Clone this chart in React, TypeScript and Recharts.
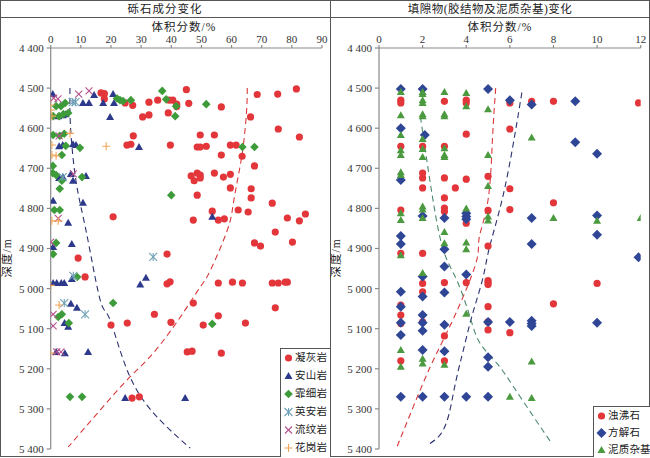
import React from "react";
import { ComposedChart, Scatter, Line, XAxis, YAxis } from "recharts";

type Pt = [number, number]; // [体积分数, 深度]

// ---- 左图：砾石成分 ----
const TUFF: Pt[] = [
  [81.5, 4502], [75.3, 4515], [68.5, 4516], [45, 4504], [66.3, 4572], [56.6, 4547],
  [45.8, 4538], [39.3, 4530], [40.5, 4530], [41.8, 4540], [41.8, 4546], [35.5, 4530],
  [32.6, 4535], [32.6, 4567], [30.5, 4572], [39, 4562], [27.2, 4543], [24.7, 4537],
  [17.8, 4514], [16.7, 4512], [17.8, 4527], [27.4, 4619], [25.3, 4642], [26.6, 4640],
  [39.7, 4642], [75.5, 4602], [82.5, 4622], [49.6, 4617], [54.3, 4617], [48.6, 4647],
  [49.6, 4647], [51.6, 4645], [59.6, 4642], [61.5, 4642], [63.5, 4670], [56.6, 4667],
  [67.6, 4694], [48.6, 4712], [46.6, 4719], [49.6, 4717], [47.6, 4731], [49.6, 4724],
  [54.3, 4712], [57.3, 4722], [59.6, 4715], [59.6, 4749], [66.5, 4751], [66.5, 4774],
  [48.6, 4767], [73.5, 4787], [53.6, 4807], [62.2, 4804], [65.5, 4809], [47.3, 4829],
  [55.6, 4829], [57.6, 4826], [78.5, 4824], [82.5, 4831], [84.5, 4814], [74.5, 4859],
  [67.6, 4886], [69.6, 4894], [80.2, 4884], [55.6, 4986], [60.3, 4984], [63.6, 4986],
  [73.5, 4986], [75.5, 4986], [77.8, 4984], [78.5, 4984], [47.3, 5036], [74.5, 5048],
  [55.6, 5068], [50.6, 5091], [64.6, 5086], [45.3, 5158], [46.9, 5156], [56.6, 5161],
  [38.6, 4988], [39.6, 4983], [34.4, 5064], [39.9, 5084], [25.4, 5086], [20, 5091],
  [27, 5273], [29.4, 5270], [20.7, 4821], [9.1, 4924], [11.4, 4971], [38.6, 4914],
];
const ANDESITE: Pt[] = [
  [0.7, 4515], [10.7, 4537], [12.7, 4537], [14.4, 4517], [20.7, 4515], [17.4, 4537],
  [21, 4537], [19.7, 4572], [2.5, 4570], [4, 4568], [5, 4565], [2.8, 4645], [4, 4642],
  [29.3, 4647], [7.4, 4640], [8.4, 4642], [6.7, 4714], [7.4, 4731], [11.7, 4719],
  [2.8, 4724], [4, 4722], [10.7, 4786], [0.8, 4781], [5.8, 4836], [7, 4889], [0.8, 4896],
  [0.8, 4986], [2, 4986], [3.5, 4986], [4.5, 4986], [7, 4976], [29.7, 4990], [31.6, 4973],
  [6.7, 5038], [8.7, 5048], [4.6, 5086], [5.8, 5095], [53.6, 4821], [1.8, 5158],
  [4.7, 5161], [12.4, 5158], [24.7, 5273], [44.6, 5273],
];
const FELSITE: Pt[] = [
  [37, 4507], [38.3, 4528], [51.6, 4540], [41.3, 4570], [41.6, 4545], [23, 4530],
  [22, 4526], [24, 4532], [26.6, 4530], [4.8, 4537], [3.4, 4545], [1.8, 4545],
  [0.8, 4570], [2.8, 4570], [4.2, 4565], [5.8, 4562], [0.8, 4617], [3, 4619], [4.5, 4614],
  [5, 4644], [9.7, 4649], [3.7, 4667], [0.7, 4694], [0.7, 4712], [1.8, 4717], [3.7, 4731],
  [3, 4751], [10.4, 4722], [40, 4767], [1.2, 4804], [3, 4804], [1.8, 4886], [0.8, 4914],
  [8.8, 4971], [20.7, 5036], [3.7, 5064], [2.5, 5071], [6, 5086], [53.6, 5088],
  [6.4, 5270], [10.4, 5270], [63.6, 4647], [67.6, 4647],
];
const DACITE: Pt[] = [
  [7.3, 4535], [8.2, 4535], [4, 4722], [34, 4921], [7.5, 4968], [4.5, 5036], [11.4, 5064],
];
const RHYOLITE: Pt[] = [
  [9.3, 4515], [12.7, 4507], [1, 4525], [2.4, 4527], [2.8, 4619], [7.5, 4714],
  [2.5, 4825], [0, 4884], [0.8, 5064], [0.8, 5093], [3.4, 5158], [2, 5158],
];
const GRANITE: Pt[] = [
  [0, 4542], [0.4, 4570], [0.4, 4642], [18.4, 4645], [1.8, 4669], [0.4, 4667],
  [6.4, 4613], [0.4, 4831], [2.5, 4831], [2.8, 5041], [0, 5161], [0, 4992], [0, 4555],
];
const LEFT_TREND_NAVY: Pt[] = [
  [6.4, 4500], [6.6, 4600], [8.5, 4737], [11.9, 4862], [16.4, 5028], [19.7, 5078],
  [26.3, 5220], [36.3, 5328], [46.3, 5398],
];
const LEFT_TREND_RED: Pt[] = [
  [65.2, 4500], [65, 4555], [64, 4637], [62.6, 4704], [60.6, 4787], [58.6, 4854],
  [53, 4954], [49.6, 4996], [43, 5071], [34, 5161], [26.3, 5220], [16.4, 5303], [5.8, 5395],
];

// ---- 右图：填隙物 ----
const LAUMONTITE: Pt[] = [
  [1, 4530], [1, 4537], [1, 4645], [1, 4804], [1, 4912], [1, 5041], [1, 5066], [1, 5087], [1, 5180],
  [2, 4645], [2, 4712], [2, 4724], [2, 4749], [2, 4912], [2, 4987], [2, 5008], [2, 5083],
  [3, 4533], [3, 4645], [3, 4724], [3, 4774], [3, 4799], [3, 4808], [3, 4985], [3, 5118], [3, 5180],
  [3.5, 4749], [4, 4530], [4, 4537], [4, 4615], [4, 4727], [4, 4837], [4, 4985],
  [5, 4720], [5, 4805], [5, 4894], [5, 4980], [5, 4985], [5, 4990], [5, 5045], [5, 5083], [5, 5103],
  [6, 4537], [6, 4602], [6, 4751], [6, 4803], [6, 5110], [7, 4533], [8, 4533], [8, 4786],
  [8, 5038], [10, 4987], [11.9, 4537],
];
const CALCITE: Pt[] = [
  [1, 4502], [1, 4600], [1, 4729], [1, 4869], [1, 4889], [1, 5008], [1, 5045], [1, 5085], [1, 5116], [1, 5270],
  [2, 4502], [2.1, 4617], [2, 4819], [2, 4970], [2, 5020], [2, 5066], [2, 5085], [2, 5105], [2, 5153], [2, 5270],
  [3, 4824], [3, 4902], [3, 4945], [3, 5010], [3, 5090], [3, 5156], [3, 5270],
  [4, 4812], [4, 4820], [4, 4827], [4, 4965], [4, 5270],
  [5, 4502], [5, 5083], [5, 5171], [5, 5195], [5, 5270], [6, 4530], [6, 5083],
  [7, 4541], [7, 4824], [7, 4889], [7, 5080], [7, 5087], [7, 5093], [9, 4533], [9, 4635],
  [10, 4664], [10, 4818], [10, 4866], [10, 5085], [11.9, 4922],
];
const MATRIX: Pt[] = [
  [1, 4510], [1, 4568], [1, 4617], [1, 4655], [1, 4667], [1, 4710], [1, 4717], [1, 4812],
  [1, 4829], [1, 4917], [1, 5153], [1, 5195],
  [2, 4510], [2, 4515], [2, 4530], [2, 4537], [2, 4565], [2, 4570], [2, 4627], [2, 4652],
  [2, 4672], [2, 4795], [2, 4803], [2, 4824], [2, 4961], [2, 5175], [2, 5187],
  [3, 4510], [3, 4565], [3, 4570], [3, 4650], [3, 4667], [3, 4672], [3, 4859], [3, 4887], [3, 5190],
  [4, 4512], [4, 4545], [4, 4800], [4, 4885], [4, 4902], [4, 5063],
  [5, 4553], [5, 4667], [5, 4744], [5, 4820], [5, 4830], [6, 5270], [7, 4623], [7, 5182],
  [7, 5273], [8, 4824], [10, 4831], [12, 4824],
];
const RIGHT_TREND_RED: Pt[] = [
  [5.35, 4500], [5.2, 4630], [5, 4779], [4.6, 4871], [4.5, 4925], [3.86, 5020],
  [3.1, 5111], [2.35, 5195], [1.57, 5295], [0.82, 5395],
];
const RIGHT_TREND_NAVY: Pt[] = [
  [6.55, 4511], [6.24, 4613], [5.78, 4746], [5.32, 4846], [5.0, 4912], [4.78, 4970],
  [4.48, 5028], [4.17, 5087], [3.87, 5153], [3.64, 5203], [3.41, 5261], [3.18, 5319],
  [2.8, 5365], [2.19, 5391],
];
const RIGHT_TREND_GREEN: Pt[] = [
  [1.9, 4571], [2.19, 4679], [2.5, 4787], [2.95, 4904], [3.56, 4978], [4.17, 5070],
  [4.63, 5136], [5.4, 5186], [6.16, 5244], [7.08, 5319], [7.92, 5386],
];

const DEPTH_TICKS = [4400, 4500, 4600, 4700, 4800, 4900, 5000, 5100, 5200, 5300, 5400];
const LEFT_TICKS = [0, 10, 20, 30, 40, 50, 60, 70, 80, 90];
const RIGHT_TICKS = [0, 2, 4, 6, 8, 10, 12];

const SERIF = "'Liberation Serif', 'Noto Sans CJK SC', serif";
const RED = "#e3363b";
const NAVY = "#2d3a8c";
const GREEN = "#3e9b3a";

const toXY = (pts: Pt[]) => pts.map(([x, y]) => ({ x, y }));
const fmtDepth = (v: number) => `${Math.floor(v / 1000)} ${String(v % 1000).padStart(3, "0")}`;

const Dot = (color: string) => (p: any) => <circle cx={p.cx} cy={p.cy} r={3.6} fill={color} />;
const Tri = (color: string) => (p: any) => (
  <polygon points={`${p.cx},${p.cy - 4} ${p.cx - 4},${p.cy + 3} ${p.cx + 4},${p.cy + 3}`} fill={color} />
);
const Dia = (color: string, s = 4.6) => (p: any) => (
  <polygon points={`${p.cx},${p.cy - s} ${p.cx + s},${p.cy} ${p.cx},${p.cy + s} ${p.cx - s},${p.cy}`} fill={color} />
);
const Star = (color: string) => (p: any) => (
  <g stroke={color} strokeWidth={1.1}>
    <line x1={p.cx - 4} y1={p.cy - 4} x2={p.cx + 4} y2={p.cy + 4} />
    <line x1={p.cx - 4} y1={p.cy + 4} x2={p.cx + 4} y2={p.cy - 4} />
    <line x1={p.cx} y1={p.cy - 4} x2={p.cx} y2={p.cy + 4} />
  </g>
);
const Cross = (color: string) => (p: any) => (
  <g stroke={color} strokeWidth={1.1}>
    <line x1={p.cx - 3.5} y1={p.cy - 3.5} x2={p.cx + 3.5} y2={p.cy + 3.5} />
    <line x1={p.cx - 3.5} y1={p.cy + 3.5} x2={p.cx + 3.5} y2={p.cy - 3.5} />
  </g>
);
const Plus = (color: string) => (p: any) => (
  <g stroke={color} strokeWidth={1.1}>
    <line x1={p.cx - 4} y1={p.cy} x2={p.cx + 4} y2={p.cy} />
    <line x1={p.cx} y1={p.cy - 4} x2={p.cx} y2={p.cy + 4} />
  </g>
);

const tickStyle = { fontSize: 11, fill: "#333", fontFamily: SERIF };

const LEFT_SERIES = [
  { name: "凝灰岩", data: TUFF, shape: Dot(RED) },
  { name: "安山岩", data: ANDESITE, shape: Tri(NAVY) },
  { name: "霏细岩", data: FELSITE, shape: Dia(GREEN, 4.3) },
  { name: "英安岩", data: DACITE, shape: Star("#6fa0b6") },
  { name: "流纹岩", data: RHYOLITE, shape: Cross("#b5508c") },
  { name: "花岗岩", data: GRANITE, shape: Plus("#f2a55a") },
];
const RIGHT_SERIES = [
  { name: "浊沸石", data: LAUMONTITE, shape: Dot(RED) },
  { name: "方解石", data: CALCITE, shape: Dia("#2f4696", 5) },
  { name: "泥质杂基", data: MATRIX, shape: Tri("#4b9a3f") },
];

function Panel(props: {
  width: number;
  domain: [number, number];
  ticks: number[];
  series: { name: string; data: Pt[]; shape: any }[];
  trends: { data: Pt[]; color: string }[];
  marginLeft: number;
  marginRight: number;
}) {
  return (
    <ComposedChart
      width={props.width}
      height={458}
      margin={{ top: 28, right: props.marginRight, bottom: 9, left: props.marginLeft }}
    >
      <XAxis
        type="number"
        dataKey="x"
        orientation="top"
        domain={props.domain}
        ticks={props.ticks}
        height={20}
        tick={tickStyle}
        tickSize={3}
        tickMargin={2}
        stroke="#8a8a8a"
        strokeWidth={1.2}
        allowDataOverflow
      />
      <YAxis
        type="number"
        dataKey="y"
        reversed
        domain={[4400, 5400]}
        ticks={DEPTH_TICKS}
        width={40}
        tick={tickStyle}
        tickFormatter={fmtDepth}
        tickSize={4}
        tickMargin={3}
        stroke="#8a8a8a"
        strokeWidth={1.2}
        allowDataOverflow
      />
      {props.series.map((s) => (
        <Scatter key={s.name} name={s.name} data={toXY(s.data)} shape={s.shape} isAnimationActive={false} />
      ))}
      {props.trends.map((t, i) => (
        <Line
          key={"t" + i}
          data={toXY(t.data)}
          dataKey="y"
          type="natural"
          dot={false}
          activeDot={false}
          stroke={t.color}
          strokeWidth={1.1}
          strokeDasharray="6 4"
          isAnimationActive={false}
        />
      ))}
    </ComposedChart>
  );
}

function LegendBox(props: { left: number; top: number; width: number; row: number; items: { name: string; shape: any }[] }) {
  const { left, top, width, row, items } = props;
  return (
    <div
      style={{
        position: "absolute",
        left,
        top,
        width,
        height: 457 - top,
        borderLeft: "1px solid #555",
        borderTop: "1px solid #555",
        background: "#fff",
        boxSizing: "border-box",
        overflow: "hidden",
      }}
    >
      {items.map((it) => (
        <div
          key={it.name}
          style={{ display: "flex", alignItems: "center", height: row, fontSize: 10.5, color: "#222", fontFamily: SERIF, whiteSpace: "nowrap" }}
        >
          <svg width={11} height={12} style={{ marginLeft: 2, marginRight: 1, flex: "none" }}>
            {it.shape({ cx: 5.5, cy: 6 })}
          </svg>
          <span style={{ letterSpacing: 0.2, lineHeight: `${row}px` }}>{it.name}</span>
        </div>
      ))}
    </div>
  );
}

export default function App() {
  return (
    <div style={{ position: "absolute", left: 0, top: 0, width: 650, height: 458, background: "#fff", fontFamily: SERIF }}>
      <div style={{ position: "absolute", left: 0, top: 0 }}>
        <Panel
          width={330}
          domain={[0, 90]}
          ticks={LEFT_TICKS}
          series={LEFT_SERIES}
          trends={[
            { data: LEFT_TREND_NAVY, color: "#2b3170" },
            { data: LEFT_TREND_RED, color: "#d8393b" },
          ]}
          marginLeft={10.7}
          marginRight={8}
        />
      </div>
      <div style={{ position: "absolute", left: 330, top: 0 }}>
        <Panel
          width={320}
          domain={[0, 12]}
          ticks={RIGHT_TICKS}
          series={RIGHT_SERIES}
          trends={[
            { data: RIGHT_TREND_RED, color: "#d8393b" },
            { data: RIGHT_TREND_NAVY, color: "#2b3170" },
            { data: RIGHT_TREND_GREEN, color: "#4d8a6c" },
          ]}
          marginLeft={9}
          marginRight={9.3}
        />
      </div>

      <svg width={650} height={458} style={{ position: "absolute", left: 0, top: 0, pointerEvents: "none" }}>
        <rect x={0.5} y={0.5} width={649} height={456} fill="none" stroke="#555" strokeWidth={1} />
        <line x1={0} y1={17.5} x2={650} y2={17.5} stroke="#555" />
        <line x1={330.5} y1={0} x2={330.5} y2={457} stroke="#555" />
        <text x={165} y={13} textAnchor="middle" fontSize={11.5} fill="#222" letterSpacing={1}>砾石成分变化</text>
        <text x={490} y={13} textAnchor="middle" fontSize={11.5} fill="#222" letterSpacing={0.5}>填隙物(胶结物及泥质杂基)变化</text>
        <text x={184} y={31} textAnchor="middle" fontSize={11.5} fill="#222" letterSpacing={1}>体积分数/%</text>
        <text x={500} y={31} textAnchor="middle" fontSize={11.5} fill="#222" letterSpacing={1}>体积分数/%</text>
        <text transform="translate(11,258) rotate(-90)" textAnchor="middle" fontSize={11.5} fill="#222" letterSpacing={1}>深度/m</text>
        <text transform="translate(340,258) rotate(-90)" textAnchor="middle" fontSize={11.5} fill="#222" letterSpacing={1}>深度/m</text>
      </svg>

      <LegendBox left={280} top={348} width={50} row={18} items={LEFT_SERIES} />
      <LegendBox left={593} top={406} width={57} row={17} items={RIGHT_SERIES} />
    </div>
  );
}
